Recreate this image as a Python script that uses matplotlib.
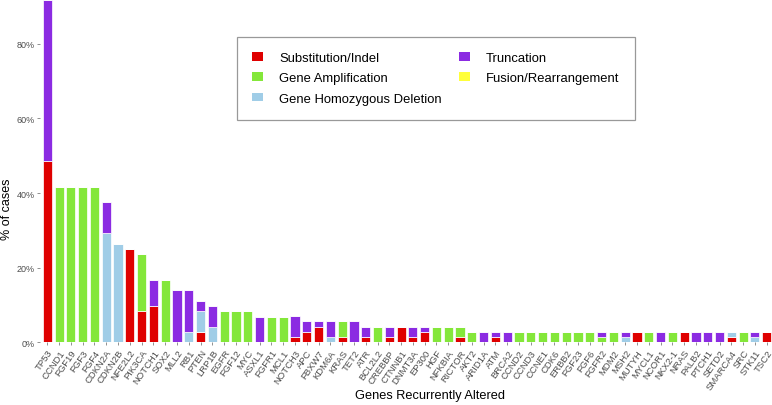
import numpy as np
import matplotlib
matplotlib.use("Agg")
import matplotlib.pyplot as plt
from matplotlib.patches import Patch

genes = ["TP53", "CCND1", "FGF19", "FGF3", "FGF4", "CDKN2A", "CDKN2B", "NFE2L2",
         "PIK3CA", "NOTCH1", "SOX2", "MLL2", "RB1", "PTEN", "LRP1B", "EGFR", "FGF12",
         "MYC", "ASXL1", "FGFR1", "MCL1", "NOTCH3", "APC", "FBXW7", "KDM6A", "KRAS",
         "TET2", "ATR", "BCL2L2", "CREBBP", "CTNNB1", "DNMT3A", "EP300", "HGF",
         "NFKBIA", "RICTOR", "AKT2", "ARID1A", "ATM", "BRCA2", "CCND2", "CCND3",
         "CCNE1", "CDK6", "ERBB2", "FGF23", "FGF6", "FGFR2", "MDM2", "MSH2", "MUTYH",
         "MYCL1", "NCOR1", "NKX2-1", "NRAS", "PALB2", "PTCH1", "SETD2", "SMARCA4",
         "SRC", "STK11", "TSC2"]

# % of cases per alteration type
substitution = [48.6, 0, 0, 0, 0, 0, 0, 25.0, 8.3, 9.7, 0, 0, 0, 2.8, 0, 0, 0,
                0, 0, 0, 0, 1.4, 2.8, 4.2, 0, 1.4, 0, 1.4, 0, 1.4, 4.2, 1.4, 2.8, 0,
                0, 1.4, 0, 0, 1.4, 0, 0, 0, 0, 0, 0, 0, 0, 0, 0, 0, 2.8,
                0, 0, 0, 2.8, 0, 0, 0, 1.4, 0, 0, 2.8]
amplification = [0, 41.7, 41.7, 41.7, 41.7, 0, 0, 0, 15.3, 0, 16.7, 0, 0, 0, 0, 8.3, 8.3,
                 8.3, 0, 6.9, 6.9, 0, 0, 0, 0, 4.2, 0, 0, 4.2, 0, 0, 0, 0, 4.2,
                 4.2, 2.8, 2.8, 0, 0, 0, 2.8, 2.8, 2.8, 2.8, 2.8, 2.8, 2.8, 1.4, 2.8, 0, 0,
                 2.8, 0, 2.8, 0, 0, 0, 0, 0, 2.8, 0, 0]
deletion = [0, 0, 0, 0, 0, 29.2, 26.4, 0, 0, 0, 0, 0, 2.8, 5.6, 4.2, 0, 0,
            0, 0, 0, 0, 0, 0, 0, 1.4, 0, 0, 0, 0, 0, 0, 0, 0, 0,
            0, 0, 0, 0, 0, 0, 0, 0, 0, 0, 0, 0, 0, 0, 0, 1.4, 0,
            0, 0, 0, 0, 0, 0, 0, 1.4, 0, 1.4, 0]
truncation = [43.1, 0, 0, 0, 0, 8.3, 0, 0, 0, 6.9, 0, 13.9, 11.1, 2.8, 5.6, 0, 0,
              0, 6.9, 0, 0, 5.6, 2.8, 1.4, 4.2, 0, 5.6, 2.8, 0, 2.8, 0, 2.8, 1.4, 0,
              0, 0, 0, 2.8, 1.4, 2.8, 0, 0, 0, 0, 0, 0, 0, 1.4, 0, 1.4, 0,
              0, 2.8, 0, 0, 2.8, 2.8, 2.8, 0, 0, 1.4, 0]
fusion = [0] * len(genes)

series = [("Substitution/Indel", substitution, "#DF0000"),
          ("Gene Amplification", amplification, "#84E73A"),
          ("Gene Homozygous Deletion", deletion, "#A0CDE7"),
          ("Truncation", truncation, "#8B2BE2"),
          ("Fusion/Rearrangement", fusion, "#FFFF3A")]

plt.rcParams['font.family'] = ['Liberation Sans', 'DejaVu Sans']

fig = plt.figure(figsize=(7.72, 4.06), dpi=100)
ax = fig.add_axes([40 / 772, 62.7 / 406, 732 / 772, 343.3 / 406])

x = np.arange(len(genes))
bottom = np.zeros(len(genes))
for name, vals, col in series:
    vals = np.array(vals, dtype=float)
    ax.bar(x, vals, bottom=bottom, width=0.78, color=col, edgecolor="white",
           linewidth=0.5)
    bottom += vals

ax.set_xlim(-0.62, len(genes) - 0.55)
ax.set_ylim(0, 92)
ax.set_yticks([0, 20, 40, 60, 80])
ax.set_yticklabels(["0%", "20%", "40%", "60%", "80%"])
ax.set_xticks(x)
ax.set_xticklabels(genes, rotation=55, ha="right", va="top", rotation_mode="anchor")
ax.tick_params(axis="both", labelsize=6.8, labelcolor="#4d4d4d", color="#7f7f7f",
               length=2.5, width=0.6, pad=1.5)
ax.tick_params(axis="y", labelsize=6.5)
for s in ax.spines.values():
    s.set_visible(False)

fig.text(0.009, 0.485, "% of cases", rotation=90, ha="center", va="center", fontsize=9)
fig.text(430 / 772, 1 - 396 / 406, "Genes Recurrently Altered", ha="center", va="center",
         fontsize=9.2)

handles = [Patch(facecolor=col, edgecolor="none", label=name) for name, vals, col in series]
leg = fig.legend(handles=handles, ncol=2, loc="upper left",
                 bbox_to_anchor=(236.7 / 772, 1 - 38.3 / 406), frameon=True,
                 fancybox=False, fontsize=9.4, handlelength=0.85, handleheight=0.65,
                 handletextpad=1.25, columnspacing=1.3, labelspacing=0.62,
                 borderpad=1.15, borderaxespad=0)
leg.get_frame().set_edgecolor("#808080")
leg.get_frame().set_linewidth(0.9)

fig.savefig("out.png", dpi=100)
